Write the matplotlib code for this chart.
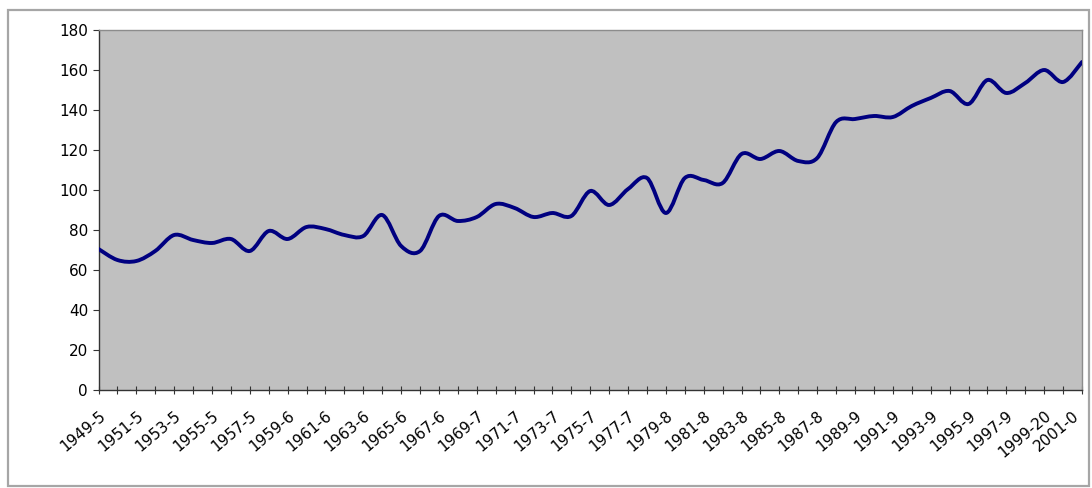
import numpy as np
import matplotlib
matplotlib.use("Agg")
import matplotlib.pyplot as plt
from matplotlib.path import Path
from matplotlib.patches import PathPatch, Rectangle
from matplotlib.transforms import ScaledTranslation

# Annual index values, one per year from 1949-50 to 2001-02
index_values = [70.5, 65, 64.5, 69.5, 77.5, 75, 73.5, 75.5, 69.5, 79.5,
                75.5, 81.5, 80.5, 77.5, 77, 87.5, 72, 69.5, 87, 84.5,
                86.5, 93, 91, 86.5, 88.5, 87, 99.5, 92.5, 100.5, 106,
                88.5, 106, 105, 103.5, 118, 115.5, 119.5, 114.5, 116, 134,
                135.5, 137, 136.5, 142, 146, 149.5, 143, 155, 148.5, 153.5,
                160, 154, 164]

# Category labels shown on every second year
year_labels = ["1949-5", "1951-5", "1953-5", "1955-5", "1957-5",
               "1959-6", "1961-6", "1963-6", "1965-6", "1967-6",
               "1969-7", "1971-7", "1973-7", "1975-7", "1977-7",
               "1979-8", "1981-8", "1983-8", "1985-8", "1987-8",
               "1989-9", "1991-9", "1993-9", "1995-9", "1997-9",
               "1999-20", "2001-0"]

y_ticks = [0, 20, 40, 60, 80, 100, 120, 140, 160, 180]

W, H = 1092, 488
fig = plt.figure(figsize=(W / 100, H / 100), dpi=100)
fig.patch.set_facecolor("white")

# outer chart frame
fig.patches.append(Rectangle((8 / W, 1 - 486 / H), (1089 - 8) / W, (486 - 10) / H,
                             transform=fig.transFigure, fill=False,
                             edgecolor="#a6a6a6", linewidth=1.6))

left, right, top, bottom = 98.5, 1082, 30, 390
ax = fig.add_axes([left / W, 1 - bottom / H, (right - left) / W, (bottom - top) / H])
ax.set_facecolor("#c0c0c0")

n = len(index_values)
x = np.arange(n, dtype=float)
y = np.asarray(index_values, dtype=float)

# smoothed line through the yearly points (cubic Bezier segments)
verts = [(x[0], y[0])]
codes = [Path.MOVETO]
for i in range(n - 1):
    i0 = max(i - 1, 0)
    i3 = min(i + 2, n - 1)
    c1 = (x[i] + (x[i + 1] - x[i0]) / 6, y[i] + (y[i + 1] - y[i0]) / 6)
    c2 = (x[i + 1] - (x[i3] - x[i]) / 6, y[i + 1] - (y[i3] - y[i]) / 6)
    verts += [c1, c2, (x[i + 1], y[i + 1])]
    codes += [Path.CURVE4] * 3
ax.add_patch(PathPatch(Path(verts, codes), fill=False, edgecolor="#000080",
                       linewidth=2.8, capstyle="round", joinstyle="round", zorder=3))

ax.set_xlim(0, n - 1)
ax.set_ylim(0, 180)

ax.set_yticks(y_ticks)
ax.set_yticklabels([str(v) for v in y_ticks], fontsize=11, family="DejaVu Sans")
ax.tick_params(axis="y", direction="out", length=4.5, width=0.8, pad=3, color="#333333")

ax.set_xticks(np.arange(0, n, 2))
ax.set_xticks(np.arange(1, n, 2), minor=True)
xlabels = ax.set_xticklabels(year_labels, fontsize=11, family="DejaVu Sans", rotation=40,
                             ha="right", va="top", rotation_mode="anchor")
ax.tick_params(axis="x", which="both", direction="inout", length=6, width=0.8,
               pad=10, color="#333333")

# keep the final label inside the chart frame
last = xlabels[-1]
last.set_transform(last.get_transform() + ScaledTranslation(-10 / 100, 0, fig.dpi_scale_trans))

for s in ("left", "bottom"):
    ax.spines[s].set_color("#333333")
    ax.spines[s].set_linewidth(1.0)
for s in ("top", "right"):
    ax.spines[s].set_color("#8c8c8c")
    ax.spines[s].set_linewidth(1.0)

fig.savefig("out.png", dpi=100)
